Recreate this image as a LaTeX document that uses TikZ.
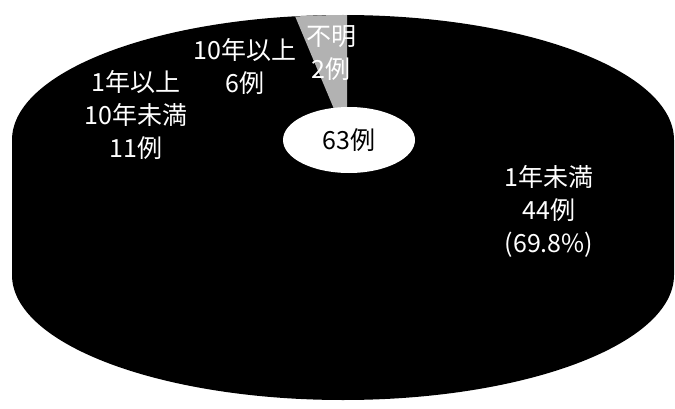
\documentclass[tikz,border=0pt]{standalone}
\usepackage{fontspec}
\setmainfont{Noto Sans CJK JP}
\usetikzlibrary{shapes.geometric}

\begin{document}
\begin{tikzpicture}[x=1pt, y=1pt, every node/.style={text=white, align=center, font=\fontsize{25}{33}\selectfont}, every path/.style={draw=none}]
			\useasboundingbox (0,0) rectangle (675,408);
			
			\fill[black] (674,268) arc[start angle=0, end angle=180, x radius=331, y radius=125]
			  -- (12,133) arc[start angle=180, end angle=360, x radius=331, y radius=125] -- cycle;
			\fill[gray!60] (347,268) -- (347,393) arc[start angle=90, end angle=99, x radius=331, y radius=125] -- cycle;
			
			\node[fill=white, text=black, ellipse, minimum width=132, minimum height=66, inner sep=0pt] (total) at (349,268){63例};
			
			\node (lt1y) at (549,197){1年未満\\44例\\(69.8\%)};
			\node (y1to10) at (136,293){1年以上\\10年未満\\11例};
			\node (y10up) at (245,342){10年以上\\6例};
			\node (unknown) at (331,355){不明\\2例};
			\end{tikzpicture}
\end{document}
